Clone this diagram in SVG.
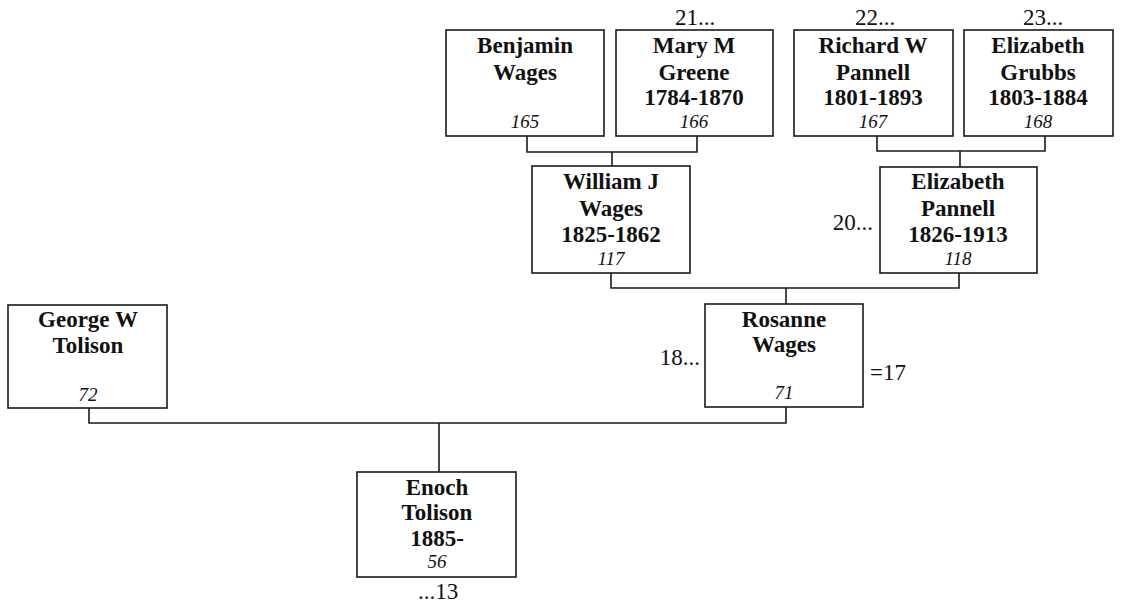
<svg xmlns="http://www.w3.org/2000/svg" width="1121" height="604" viewBox="0 0 1121 604">
<style>
rect.b{fill:#fff;stroke:#1a1a1a;stroke-width:1.6}
.n{font-family:"Liberation Serif",serif;font-weight:bold;font-size:23px;fill:#111;text-anchor:middle}
.i{font-family:"Liberation Serif",serif;font-style:italic;font-size:19px;fill:#111;text-anchor:middle}
.o{font-family:"Liberation Serif",serif;font-size:23px;fill:#111}
#connectors path{fill:none;stroke:#1a1a1a;stroke-width:1.6}
</style>
<rect width="1121" height="604" fill="#fff"/>
<g id="connectors">
<path d="M527 136V152H697V136M612 152V166"/>
<path d="M877 136V151H1045V136M960 151V167"/>
<path d="M611 273V288H959V273M786 288V304"/>
<path d="M89 408V423H786V407M439 423V472"/>
</g>
<g id="benjamin">
<rect class="b" x="446" y="30" width="158" height="106"/>
<text class="n" x="525" y="53">Benjamin</text>
<text class="n" x="525" y="80">Wages</text>
<text class="i" x="525" y="128">165</text>
</g>
<g id="mary">
<rect class="b" x="616" y="30" width="157" height="106"/>
<text class="o" x="695" y="25" text-anchor="middle">21...</text>
<text class="n" x="694" y="53">Mary M</text>
<text class="n" x="694" y="80">Greene</text>
<text class="n" x="694" y="105">1784-1870</text>
<text class="i" x="694" y="128">166</text>
</g>
<g id="richard">
<rect class="b" x="794" y="30" width="159" height="106"/>
<text class="o" x="875" y="25" text-anchor="middle">22...</text>
<text class="n" x="873" y="53">Richard W</text>
<text class="n" x="873" y="80">Pannell</text>
<text class="n" x="873" y="105">1801-1893</text>
<text class="i" x="873" y="128">167</text>
</g>
<g id="grubbs">
<rect class="b" x="964" y="30" width="149" height="106"/>
<text class="o" x="1043" y="25" text-anchor="middle">23...</text>
<text class="n" x="1038" y="53">Elizabeth</text>
<text class="n" x="1038" y="80">Grubbs</text>
<text class="n" x="1038" y="105">1803-1884</text>
<text class="i" x="1038" y="128">168</text>
</g>
<g id="william">
<rect class="b" x="532" y="166" width="158" height="107"/>
<text class="n" x="611" y="189">William J</text>
<text class="n" x="611" y="216">Wages</text>
<text class="n" x="611" y="242">1825-1862</text>
<text class="i" x="611" y="265">117</text>
</g>
<g id="epannell">
<rect class="b" x="880" y="167" width="157" height="106"/>
<text class="o" x="873" y="230" text-anchor="end">20...</text>
<text class="n" x="958" y="189">Elizabeth</text>
<text class="n" x="958" y="216">Pannell</text>
<text class="n" x="958" y="242">1826-1913</text>
<text class="i" x="958" y="265">118</text>
</g>
<g id="george">
<rect class="b" x="8" y="305" width="159" height="103"/>
<text class="n" x="88" y="327">George W</text>
<text class="n" x="88" y="353">Tolison</text>
<text class="i" x="88" y="401">72</text>
</g>
<g id="rosanne">
<rect class="b" x="705" y="304" width="158" height="103"/>
<text class="o" x="700" y="365" text-anchor="end">18...</text>
<text class="o" x="870" y="380">=17</text>
<text class="n" x="784" y="327">Rosanne</text>
<text class="n" x="784" y="352">Wages</text>
<text class="i" x="784" y="399">71</text>
</g>
<g id="enoch">
<rect class="b" x="357" y="472" width="159" height="105"/>
<text class="n" x="437" y="495">Enoch</text>
<text class="n" x="437" y="520">Tolison</text>
<text class="n" x="437" y="546">1885-</text>
<text class="i" x="437" y="568">56</text>
<text class="o" x="438" y="599" text-anchor="middle">...13</text>
</g>
</svg>
